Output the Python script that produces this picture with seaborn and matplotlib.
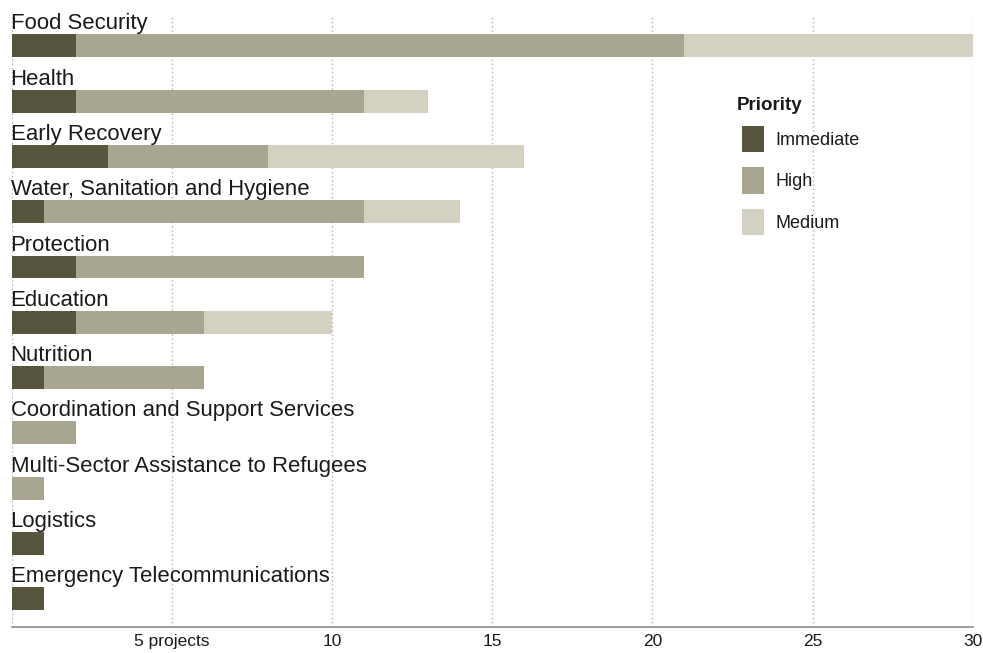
import matplotlib
matplotlib.use("Agg")
import matplotlib.pyplot as plt
from matplotlib.patches import Patch
import seaborn as sns
import pandas as pd

# ---- data ----
categories = [
    "Food Security", "Health", "Early Recovery", "Water, Sanitation and Hygiene",
    "Protection", "Education", "Nutrition", "Coordination and Support Services",
    "Multi-Sector Assistance to Refugees", "Logistics", "Emergency Telecommunications",
]
immediate = [2, 2, 3, 1, 2, 2, 1, 0, 0, 1, 1]
high      = [19, 9, 5, 10, 9, 4, 5, 2, 1, 0, 0]
medium    = [9, 2, 8, 3, 0, 4, 0, 0, 0, 0, 0]
priorities = ["Immediate", "High", "Medium"]
tick_values = [0, 5, 10, 15, 20, 25, 30]
tick_labels = ["", "5 projects", "10", "15", "20", "25", "30"]

colors = {"Immediate": "#58553e", "High": "#a8a590", "Medium": "#d3d1c2"}

df = pd.DataFrame({"category": categories, "Immediate": immediate,
                   "High": high, "Medium": medium})
df["imm_high"] = df["Immediate"] + df["High"]
df["total"] = df["imm_high"] + df["Medium"]

plt.rcParams["font.family"] = ["Liberation Sans", "DejaVu Sans"]

fig = plt.figure(figsize=(9.83, 6.53), dpi=100)
ax = fig.add_axes([11.5 / 983, 1 - 627.3 / 653, (972.7 - 11.5) / 983, (627.3 - 17) / 653])

bw = 0.415
sns.barplot(data=df, x="total", y="category", color=colors["Medium"], saturation=1,
            width=bw, linewidth=0, ax=ax, orient="h")
sns.barplot(data=df, x="imm_high", y="category", color=colors["High"], saturation=1,
            width=bw, linewidth=0, ax=ax, orient="h")
sns.barplot(data=df, x="Immediate", y="category", color=colors["Immediate"], saturation=1,
            width=bw, linewidth=0, ax=ax, orient="h")

# category labels above the bars
for i, cat in enumerate(categories):
    ax.text(-0.03, i - bw / 2 - 0.09, cat, fontsize=15.9, color="#1a1a1a",
            ha="left", va="baseline")

ax.set_xlim(0, 30)
ax.set_ylim(10.515, -0.52)
ax.set_yticks([])
ax.set_xticks(tick_values)
ax.set_xticklabels(tick_labels)
ax.tick_params(axis="x", length=0, pad=4.5, labelsize=12.5, labelcolor="#1a1a1a")
ax.set_xlabel("")
ax.set_ylabel("")

ax.set_axisbelow(True)
ax.grid(axis="x", linestyle=(0, (1, 2)), color="#b0b0b0", linewidth=1)
ax.grid(axis="y", visible=False)
for s in ["top", "right", "left"]:
    ax.spines[s].set_visible(False)
ax.spines["bottom"].set_color("#8c8c8c")
ax.spines["bottom"].set_linewidth(1.2)

# legend
fig.text(737 / 983, 1 - 110 / 653, "Priority", fontsize=13.5, fontweight="bold",
         color="#1a1a1a", ha="left", va="baseline")
handles = [Patch(facecolor=colors[p], edgecolor="none", label=p) for p in priorities]
leg = ax.legend(handles=handles, loc="upper left",
                bbox_to_anchor=(742 / 983, 1 - 125.7 / 653), bbox_transform=fig.transFigure,
                frameon=False, prop={"size": 13},
                handlelength=1.2, handleheight=1.9, labelspacing=0.82,
                handletextpad=0.67, borderpad=0, borderaxespad=0)
for t in leg.get_texts():
    t.set_color("#1a1a1a")

fig.savefig("out.png", dpi=100)
